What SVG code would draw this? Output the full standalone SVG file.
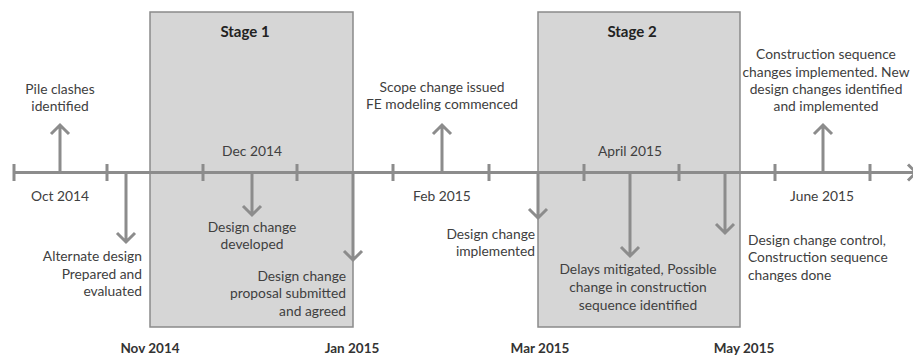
<svg xmlns="http://www.w3.org/2000/svg" width="913" height="356" viewBox="0 0 913 356">
  <style>
    .stage { fill: #d6d6d6; stroke: #8a8a8a; stroke-width: 1.5; }
    .axis, .tick, .arrow { stroke: #8c8c8c; stroke-width: 3; fill: none; }
    .arrow { stroke-linejoin: miter; }
    text { font-family: Lato, "Liberation Sans", sans-serif; font-size: 13.8px; fill: #404040; }
    .title { font-weight: bold; font-size: 15px; fill: #222; }
    .bound { font-weight: bold; font-size: 13.5px; fill: #333; }
    .mid { text-anchor: middle; }
    .end { text-anchor: end; }
  </style>

  <!-- stage bands -->
  <g id="stage1">
    <rect class="stage" x="150" y="12" width="203" height="315"/>
    <text class="title mid" x="245" y="37">Stage 1</text>
  </g>
  <g id="stage2">
    <rect class="stage" x="538" y="12" width="202" height="315"/>
    <text class="title mid" x="632" y="37">Stage 2</text>
  </g>

  <!-- time axis with monthly ticks -->
  <g id="axis">
    <line class="axis" x1="14" y1="172.5" x2="913" y2="172.5"/>
    <polyline class="arrow" points="908,164.5 916,172.5 908,180.5"/>
    <path class="tick" d="M14,164V181 M107,164V181 M203,164V181 M297,164V181 M393,164V181 M489,164V181 M584,164V181 M679,164V181 M775,164V181 M870,164V181"/>
  </g>

  <!-- event connectors -->
  <g id="connectors">
    <path class="arrow" d="M60,172V125 M51,134L60,125L69,134"/>
    <path class="arrow" d="M442,172V125 M433,134L442,125L451,134"/>
    <path class="arrow" d="M823,172V125 M814,134L823,125L832,134"/>
    <path class="arrow" d="M126,172V242 M117,233L126,242L135,233"/>
    <path class="arrow" d="M252,172V215 M243,206L252,215L261,206"/>
    <path class="arrow" d="M353,172V260 M344,251L353,260L362,251"/>
    <path class="arrow" d="M538,172V218 M529,209L538,218L547,209"/>
    <path class="arrow" d="M630,172V256 M621,247L630,256L639,247"/>
    <path class="arrow" d="M725,172V233 M716,224L725,233L734,224"/>
  </g>

  <!-- month labels -->
  <g id="months">
    <text class="mid" x="60" y="201">Oct 2014</text>
    <text class="mid" x="252" y="156">Dec 2014</text>
    <text class="mid" x="442" y="201">Feb 2015</text>
    <text class="mid" x="630" y="156">April 2015</text>
    <text class="mid" x="822" y="201">June 2015</text>
    <text class="bound mid" x="150" y="353">Nov 2014</text>
    <text class="bound mid" x="352" y="353">Jan 2015</text>
    <text class="bound mid" x="540" y="353">Mar 2015</text>
    <text class="bound mid" x="744" y="353">May 2015</text>
  </g>

  <!-- events -->
  <g id="pile-clashes">
    <text class="mid" x="60" y="94">Pile clashes</text>
    <text class="mid" x="60" y="111">identified</text>
  </g>
  <g id="scope-change">
    <text class="mid" x="442" y="92">Scope change issued</text>
    <text class="mid" x="442" y="109">FE modeling commenced</text>
  </g>
  <g id="construction-changes">
    <text class="mid" x="826" y="59">Construction sequence</text>
    <text class="mid" x="826" y="77">changes implemented. New</text>
    <text class="mid" x="826" y="94">design changes identified</text>
    <text class="mid" x="826" y="111">and implemented</text>
  </g>
  <g id="alternate-design">
    <text class="end" x="142" y="261">Alternate design</text>
    <text class="end" x="142" y="279">Prepared and</text>
    <text class="end" x="142" y="296">evaluated</text>
  </g>
  <g id="design-developed">
    <text class="mid" x="252" y="232">Design change</text>
    <text class="mid" x="252" y="249">developed</text>
  </g>
  <g id="proposal-agreed">
    <text class="end" x="346" y="281">Design change</text>
    <text class="end" x="346" y="298">proposal submitted</text>
    <text class="end" x="346" y="316">and agreed</text>
  </g>
  <g id="design-implemented">
    <text class="end" x="535" y="239">Design change</text>
    <text class="end" x="535" y="256">implemented</text>
  </g>
  <g id="delays-mitigated">
    <text class="mid" x="638" y="274">Delays mitigated, Possible</text>
    <text class="mid" x="638" y="292">change in construction</text>
    <text class="mid" x="638" y="310">sequence identified</text>
  </g>
  <g id="change-control">
    <text x="748" y="245">Design change control,</text>
    <text x="748" y="262">Construction sequence</text>
    <text x="748" y="280">changes done</text>
  </g>
</svg>
